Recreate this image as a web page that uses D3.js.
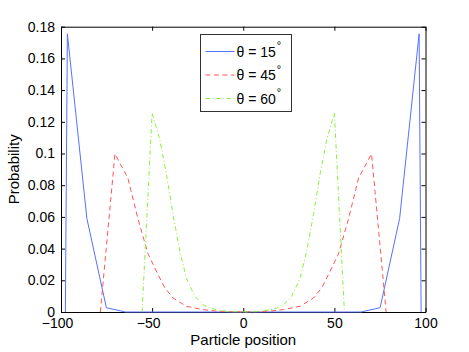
<!DOCTYPE html>
<html>
<head>
<meta charset="utf-8">
<script src="https://cdn.jsdelivr.net/npm/d3@7"></script>
<style>
  body { margin: 0; background: #fff; }
  text { font-family: "Liberation Sans", Arial, Helvetica, sans-serif; fill: #000; }
</style>
</head>
<body>
<svg id="chart" width="469" height="352"></svg>
<script>
/* data */
const xTicks = [-100, -50, 0, 50, 100]
const yTicks = [0, 0.02, 0.04, 0.06, 0.08, 0.1, 0.12, 0.14, 0.16, 0.18]

const pos15 = [-97.6, -96.5, -85.8, -75.1, -64.6, 0, 64.6, 75.1, 85.8, 96.5, 97.6]
const prob15 = [0, 0.1755, 0.059, 0.0027, 0, 0, 0, 0.0027, 0.059, 0.1755, 0]

const pos45 = [-78.4, -70.4, -63.3, -57.7, -52.2, -46.7, -43, -38.5, -31.2, -22.1, -15, -8, 0,
  8, 15, 22.1, 31.2, 38.5, 43, 46.7, 52.2, 57.7, 63.3, 70.4, 78.4]
const prob45 = [0, 0.0998, 0.0845, 0.0585, 0.0365, 0.0235, 0.0152, 0.0088, 0.0036, 0.0015, 0.0006, 0.0002, 0.0001,
  0.0002, 0.0006, 0.0015, 0.0036, 0.0088, 0.0152, 0.0235, 0.0365, 0.0585, 0.0845, 0.0998, 0]

const pos60 = [-55.5, -50, -45.8, -42.1, -38.5, -34.8, -31.2, -26.6, -22.1, -18.4, -12, -6, 0,
  6, 12, 18.4, 22.1, 26.6, 31.2, 34.8, 38.5, 42.1, 45.8, 50, 55.5]
const prob60 = [0, 0.1255, 0.1088, 0.0866, 0.0614, 0.0383, 0.0214, 0.0099, 0.0046, 0.0025, 0.0008, 0.0002, 0.0001,
  0.0002, 0.0008, 0.0025, 0.0046, 0.0099, 0.0214, 0.0383, 0.0614, 0.0866, 0.1088, 0.1255, 0]

const seriesNames = ["\u03b8 = 15", "\u03b8 = 45", "\u03b8 = 60"]

const series = [
  { name: seriesNames[0], x: pos15, y: prob15, color: "#5472ff", dash: null },
  { name: seriesNames[1], x: pos45, y: prob45, color: "#ff5656", dash: "5,3.5" },
  { name: seriesNames[2], x: pos60, y: prob60, color: "#8cf03a", dash: "4.5,2.5,1,2.5" }
]

const plot = { left: 61, right: 425.5, top: 26.7, bottom: 312 }

const svg = d3.select("#chart")

const x = d3.scaleLinear().domain([-100, 100]).range([plot.left, plot.right])
const y = d3.scaleLinear().domain([0, 0.18]).range([plot.bottom, plot.top])

const fmtX = d => d3.format("")(d)
const fmtY = d => String(+d.toFixed(2))

// axes, ticks pointing inwards like matlab
const axisStyle = g => {
  g.select(".domain").attr("stroke", "#000").attr("stroke-width", 1)
  g.selectAll(".tick line").attr("stroke", "#000")
  g.selectAll("text").attr("font-size", 14).attr("fill", "#000")
}

svg.append("g")
  .attr("transform", `translate(0,${plot.bottom})`)
  .call(d3.axisBottom(x).tickValues(xTicks).tickFormat(fmtX).tickSize(-4).tickPadding(6.5).tickSizeOuter(0))
  .call(axisStyle)
  .call(g => g.selectAll("text").attr("dx", d => (d < 0 ? -4 : 0)))

svg.append("g")
  .attr("transform", `translate(0,${plot.top})`)
  .call(d3.axisTop(x).tickValues(xTicks).tickFormat("").tickSize(-4).tickSizeOuter(0))
  .call(axisStyle)

svg.append("g")
  .attr("transform", `translate(${plot.left},0)`)
  .call(d3.axisLeft(y).tickValues(yTicks).tickFormat(fmtY).tickSize(-4).tickPadding(6).tickSizeOuter(0))
  .call(axisStyle)

svg.append("g")
  .attr("transform", `translate(${plot.right},0)`)
  .call(d3.axisRight(y).tickValues(yTicks).tickFormat("").tickSize(-4).tickSizeOuter(0))
  .call(axisStyle)

// the curves
const line = d3.line().x(d => x(d[0])).y(d => y(d[1]))

svg.append("g")
  .selectAll("path")
  .data(series)
  .join("path")
  .attr("d", s => line(s.x.map((v, i) => [v, s.y[i]])))
  .attr("fill", "none")
  .attr("stroke", s => s.color)
  .attr("stroke-width", 1)
  .attr("stroke-dasharray", s => s.dash)

// labels
svg.append("text")
  .attr("x", (plot.left + plot.right) / 2)
  .attr("y", 345)
  .attr("text-anchor", "middle")
  .attr("font-size", 15)
  .text("Particle position")

svg.append("text")
  .attr("transform", `translate(19,${(plot.top + plot.bottom) / 2}) rotate(-90)`)
  .attr("text-anchor", "middle")
  .attr("font-size", 15)
  .text("Probability")

// legend
const legend = svg.append("g").attr("transform", "translate(200.5,34.5)")

legend.append("rect")
  .attr("width", 91)
  .attr("height", 77)
  .attr("fill", "#fff")
  .attr("stroke", "#333")
  .attr("stroke-width", 1)

const rows = legend.selectAll("g.row")
  .data(series)
  .join("g")
  .attr("class", "row")
  .attr("transform", (s, i) => `translate(0,${17 + i * 23.5})`)

rows.append("line")
  .attr("x1", 5)
  .attr("x2", 34)
  .attr("stroke", s => s.color)
  .attr("stroke-width", 1)
  .attr("stroke-dasharray", s => s.dash)

const labels = rows.append("text")
  .attr("x", 36)
  .attr("dy", "0.36em")
  .attr("font-size", 14)

labels.append("tspan").text(s => s.name)
labels.append("tspan")
  .attr("dx", 1)
  .attr("dy", -7.5)
  .attr("font-size", 11)
  .text("\u00b0")
</script>
</body>
</html>
